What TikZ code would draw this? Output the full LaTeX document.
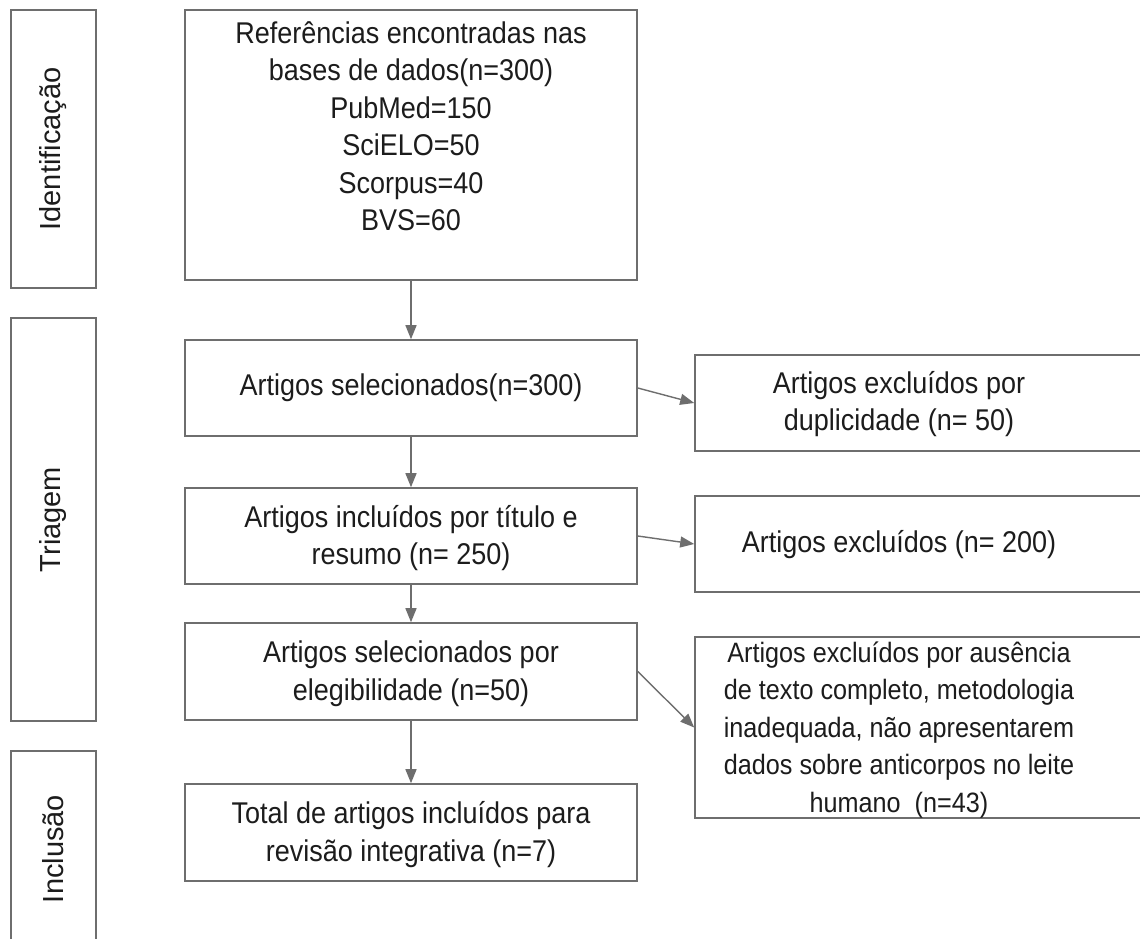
\documentclass[tikz,border=0pt]{standalone}
\usepackage{fontspec}
\setmainfont{Liberation Sans}[FakeStretch=0.9]
\newfontfamily\labelfont{Liberation Sans}
\usetikzlibrary{arrows.meta}
\definecolor{linegray}{HTML}{6E6E6E}
\definecolor{txtcol}{HTML}{1C1C1C}
\tikzset{
  boxframe/.style={draw=linegray, line width=1.6pt, fill=white, inner sep=0pt, rectangle},
  maintext/.style={text=txtcol, align=center, inner sep=0pt, font=\fontsize{30}{37.5}\selectfont},
  smalltext/.style={text=txtcol, align=center, inner sep=0pt, font=\fontsize{28}{37.5}\selectfont},
  sidetext/.style={text=txtcol, inner sep=0pt, rotate=90, font=\labelfont\fontsize{29}{35}\selectfont},
  flow/.style={draw=linegray, line width=1.4pt, -{Triangle[length=14pt,width=11pt]}}
}
\begin{document}
\begin{tikzpicture}[x=1pt,y=-1pt]
\useasboundingbox (0,0) rectangle (1140,939);
\clip (0,0) rectangle (1140,939);
\fill[white] (0,0) rectangle (1140,939);

% side stage boxes
\node[boxframe, minimum width=85pt, minimum height=278pt] (L1) at (53.5,149) {};
\node[sidetext] (L1t) at (L1.center) {Identificação};
\node[boxframe, minimum width=85pt, minimum height=403pt] (L2) at (53.5,519.5) {};
\node[sidetext] (L2t) at (L2.center) {Triagem};
\node[boxframe, minimum width=85pt, minimum height=196pt] (L3) at (53.5,849) {};
\node[sidetext] (L3t) at (L3.center) {Inclusão};

% main column
\node[boxframe, minimum width=452pt, minimum height=270pt] (b1) at (411,145) {};
\node[maintext, anchor=north] (b1t) at (411,21) {Referências encontradas nas\\bases de dados(n=300)\\PubMed=150\\SciELO=50\\Scorpus=40\\BVS=60};
\node[boxframe, minimum width=452pt, minimum height=96pt] (b2) at (411,388) {};
\node[maintext] (b2t) at (b2.center) {Artigos selecionados(n=300)};
\node[boxframe, minimum width=452pt, minimum height=96pt] (b3) at (411,536) {};
\node[maintext] (b3t) at ([yshift=-2pt]b3.center) {Artigos incluídos por título e\\resumo (n= 250)};
\node[boxframe, minimum width=452pt, minimum height=97pt] (b4) at (411,671.5) {};
\node[maintext] (b4t) at ([yshift=-2pt]b4.center) {Artigos selecionados por\\elegibilidade (n=50)};
\node[boxframe, minimum width=452pt, minimum height=97pt] (b5) at (411,832.5) {};
\node[maintext] (b5t) at ([yshift=-2pt]b5.center) {Total de artigos incluídos para\\revisão integrativa (n=7)};

% exclusion column
\node[boxframe, minimum width=455pt, minimum height=96pt] (r1) at (922.5,403) {};
\node[maintext] (r1t) at (899,404) {Artigos excluídos por\\duplicidade (n= 50)};
\node[boxframe, minimum width=455pt, minimum height=96pt] (r2) at (922.5,544) {};
\node[maintext] (r2t) at (899,545) {Artigos excluídos (n= 200)};
\node[boxframe, minimum width=455pt, minimum height=181pt] (r3) at (922.5,727.5) {};
\node[smalltext] (r3t) at (899,730) {Artigos excluídos por ausência\\de texto completo, metodologia\\inadequada, não apresentarem\\dados sobre anticorpos no leite\\humano\ \ (n=43)};

% connectors
\draw[flow] (b1.south) -- (b2.north);
\draw[flow] (b2.south) -- (b3.north);
\draw[flow] (b3.south) -- (b4.north);
\draw[flow] (b4.south) -- (b5.north);
\draw[flow] (b2.east) -- (r1.west);
\draw[flow] (b3.east) -- (r2.west);
\draw[flow] (b4.east) -- (r3.west);
\end{tikzpicture}
\end{document}
